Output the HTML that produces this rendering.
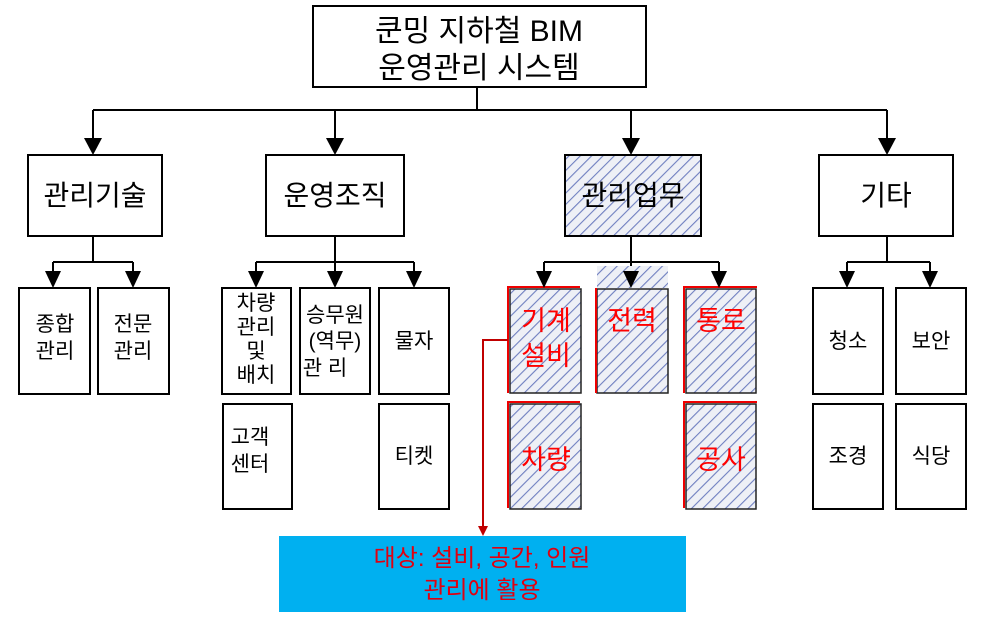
<!DOCTYPE html>
<html><head><meta charset="utf-8"><style>
html,body{margin:0;padding:0;background:#fff;}
svg{display:block;}
text{font-family:"Liberation Sans","Noto Sans CJK KR","NanumGothic",sans-serif;}
</style></head><body>
<svg width="1000" height="624" viewBox="0 0 1000 624" xmlns="http://www.w3.org/2000/svg">
<defs>
<pattern id="h" patternUnits="userSpaceOnUse" width="8" height="8" patternTransform="rotate(45)">
<rect width="8" height="8" fill="#eef0f6"/>
<line x1="0" y1="0" x2="0" y2="8" stroke="#6f7fc0" stroke-width="2.2"/>
</pattern>
<marker id="a" markerWidth="10" markerHeight="10" refX="5" refY="9" orient="auto" markerUnits="userSpaceOnUse" viewBox="0 0 10 10"></marker>
</defs>
<g stroke="#000" stroke-width="2" fill="none">
<!-- top box -->
<rect x="313" y="6" width="333" height="81" fill="#fff"/>
<line x1="477" y1="87" x2="477" y2="110"/>
<line x1="93" y1="110" x2="887" y2="110"/>
<line x1="93" y1="110" x2="93" y2="138"/>
<line x1="335" y1="110" x2="335" y2="138"/>
<line x1="631" y1="110" x2="631" y2="138"/>
<line x1="887" y1="110" x2="887" y2="138"/>
<!-- level 2 -->
<rect x="28" y="155" width="134" height="81" fill="#fff"/>
<rect x="266" y="155" width="138" height="81" fill="#fff"/>
<rect x="565" y="155" width="136" height="81" fill="url(#h)"/>
<rect x="819" y="155" width="134" height="81" fill="#fff"/>
<!-- level 2 to 3 -->
<line x1="93" y1="236" x2="93" y2="262"/>
<line x1="53" y1="262" x2="133" y2="262"/>
<line x1="53" y1="262" x2="53" y2="272"/><line x1="133" y1="262" x2="133" y2="272"/>
<line x1="335" y1="236" x2="335" y2="272"/>
<line x1="256" y1="262" x2="414" y2="262"/>
<line x1="256" y1="262" x2="256" y2="272"/><line x1="414" y1="262" x2="414" y2="272"/>
<line x1="631" y1="236" x2="631" y2="272"/>
<line x1="544" y1="262" x2="719" y2="262"/>
<line x1="544" y1="262" x2="544" y2="272"/><line x1="719" y1="262" x2="719" y2="272"/>
<line x1="887" y1="236" x2="887" y2="262"/>
<line x1="847" y1="262" x2="930" y2="262"/>
<line x1="847" y1="262" x2="847" y2="272"/><line x1="930" y1="262" x2="930" y2="272"/>
<!-- leaves -->
<rect x="19" y="288" width="71" height="106" fill="#fff"/>
<rect x="98" y="288" width="71" height="106" fill="#fff"/>
<rect x="222" y="288" width="69" height="106" fill="#fff"/>
<rect x="300" y="288" width="70" height="106" fill="#fff"/>
<rect x="379" y="288" width="70" height="106" fill="#fff"/>
<rect x="223" y="404" width="69" height="105" fill="#fff"/>
<rect x="379" y="404" width="70" height="105" fill="#fff"/>
<rect x="813" y="288" width="70" height="106" fill="#fff"/>
<rect x="896" y="288" width="70" height="106" fill="#fff"/>
<rect x="813" y="404" width="70" height="105" fill="#fff"/>
<rect x="896" y="404" width="70" height="105" fill="#fff"/>
</g>
<rect x="597" y="266" width="71" height="22" fill="url(#h)"/>
<g stroke="#222" stroke-width="1.5">
<rect x="510" y="289" width="71" height="104" fill="url(#h)"/>
<rect x="597" y="289" width="71" height="104" fill="url(#h)"/>
<rect x="686" y="289" width="70" height="104" fill="url(#h)"/>
<rect x="510" y="404" width="71" height="105" fill="url(#h)"/>
<rect x="686" y="404" width="70" height="105" fill="url(#h)"/>
</g>
<g stroke="#e00" stroke-width="2" fill="none">
<polyline points="508,393 508,287 580,287"/>
<polyline points="596,393 596,288"/>
<polyline points="684,393 684,287 757,287"/>
<polyline points="508,508 508,402 580,402"/>
<polyline points="684,508 684,402 757,402"/>
</g>
<!-- arrowheads -->
<g fill="#000">
<path d="M84,138 L102,138 L93,155Z"/><path d="M326,138 L344,138 L335,155Z"/>
<path d="M622,138 L640,138 L631,155Z"/><path d="M878,138 L896,138 L887,155Z"/>
<path d="M45,271 L61,271 L53,288Z"/><path d="M125,271 L141,271 L133,288Z"/>
<path d="M248,271 L264,271 L256,288Z"/><path d="M327,271 L343,271 L335,288Z"/><path d="M406,271 L422,271 L414,288Z"/>
<path d="M536,271 L552,271 L544,288Z"/><path d="M623,271 L639,271 L631,288Z"/><path d="M711,271 L727,271 L719,288Z"/>
<path d="M839,271 L855,271 L847,288Z"/><path d="M922,271 L938,271 L930,288Z"/>
</g>
<!-- callout -->
<rect x="279" y="536" width="407" height="76" fill="#00b0f0"/>
<polyline points="508,340 483,340 483,527" stroke="#c00000" stroke-width="2" fill="none"/>
<path d="M478,526 L488,526 L483,536Z" fill="#c00000"/>
<!-- text -->
<g font-size="30" text-anchor="middle" fill="#000">
<text x="479" y="41">쿤밍 지하철 BIM</text>
<text x="479" y="78">운영관리 시스템</text>
</g>
<g font-size="28" text-anchor="middle" fill="#000">
<text x="95" y="205">관리기술</text>
<text x="335" y="205">운영조직</text>
<text x="633" y="205">관리업무</text>
<text x="886" y="205">기타</text>
</g>
<g font-size="21" text-anchor="middle" fill="#000">
<text x="55" y="331">종합</text><text x="55" y="358">관리</text>
<text x="133" y="331">전문</text><text x="133" y="358">관리</text>
<text x="256" y="310">차량</text><text x="256" y="334">관리</text><text x="256" y="358">및</text><text x="256" y="382">배치</text>
<text x="335" y="322">승무원</text><text x="335" y="348">(역무)</text><text x="325" y="375">관 리</text>
<text x="414" y="348">물자</text>
<text x="250" y="444">고객</text><text x="250" y="471">센터</text>
<text x="414" y="463">티켓</text>
<text x="848" y="348">청소</text><text x="931" y="348">보안</text>
<text x="848" y="463">조경</text><text x="931" y="463">식당</text>
</g>
<g font-size="27" text-anchor="middle" fill="#ff0000">
<text x="546" y="330">기계</text><text x="546" y="365">설비</text>
<text x="632" y="330">전력</text>
<text x="721" y="330">통로</text>
<text x="546" y="469">차량</text>
<text x="721" y="469">공사</text>
</g>
<g font-size="24" text-anchor="middle" fill="#e00010">
<text x="482" y="566">대상: 설비,  공간,  인원</text>
<text x="482" y="598">관리에 활용</text>
</g>
</svg>
</body></html>
